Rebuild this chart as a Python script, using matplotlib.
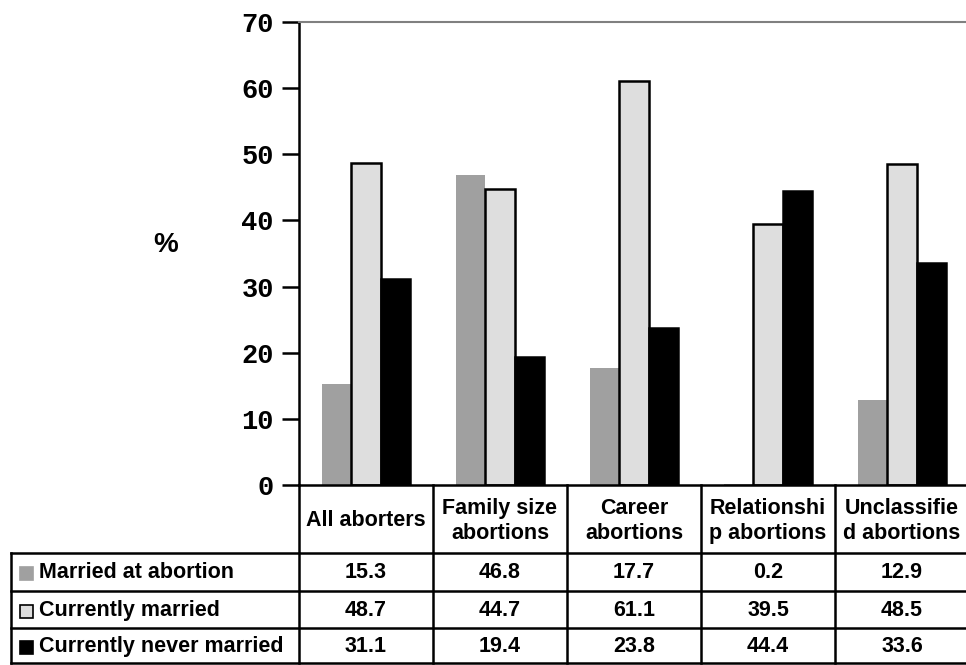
import matplotlib.pyplot as plt
from matplotlib.patches import Rectangle
from matplotlib.transforms import blended_transform_factory
import numpy as np

categories = ["All aborters", "Family size\nabortions", "Career\nabortions",
              "Relationshi\np abortions", "Unclassifie\nd abortions"]
series = ["Married at abortion", "Currently married", "Currently never married"]
married_at_abortion = [15.3, 46.8, 17.7, 0.2, 12.9]
currently_married = [48.7, 44.7, 61.1, 39.5, 48.5]
never_married = [31.1, 19.4, 23.8, 44.4, 33.6]
yticks = [0, 10, 20, 30, 40, 50, 60, 70]

values = [married_at_abortion, currently_married, never_married]
fills = ["#a0a0a0", "#dedede", "#000000"]
edges = ["#a0a0a0", "#000000", "#000000"]

W, H = 966, 665
fig = plt.figure(figsize=(W / 100, H / 100), dpi=100)


def fx(x):
    return x / W


def fy(y):
    return 1 - y / H


ax = fig.add_axes([fx(299), fy(485), fx(670), fy(22) - fy(485)])

x = np.arange(len(categories))
bw = 0.219
for k, (vals, fc, ec) in enumerate(zip(values, fills, edges)):
    ax.bar(x + (k - 1) * bw, vals, bw, color=fc, edgecolor=ec,
           linewidth=1.8 if k else 0)

ax.set_xlim(-0.5, len(categories) - 0.5)
ax.set_ylim(0, 70)
ax.set_yticks(yticks)
ax.set_xticks([])
ax.tick_params(axis="y", length=12, width=1.8, pad=6)
for lbl in ax.get_yticklabels():
    lbl.set_fontfamily("Liberation Mono")
    lbl.set_fontweight("bold")
    lbl.set_fontsize(19.5)
ax.spines["right"].set_visible(False)
ax.spines["bottom"].set_visible(False)
ax.spines["left"].set_linewidth(1.8)
ax.spines["top"].set_color("#808080")
ax.spines["top"].set_linewidth(1.5)

fig.text(fx(166), fy(245), "%", fontsize=20, fontweight="bold",
         family="Liberation Sans", ha="center", va="center")

# data table under the axes
tr = blended_transform_factory(ax.transData, fig.transFigure)
row_lines = [485, 553, 591, 628, 663]
lw = 1.8
col_edges = np.arange(len(categories) + 1) - 0.5
x_right = col_edges[-1]

ax.plot([col_edges[0], x_right], [fy(485)] * 2, color="black", lw=lw,
        transform=tr, clip_on=False)
for y in row_lines[1:]:
    fig.add_artist(plt.Line2D([fx(11), fx(969)], [fy(y)] * 2, color="black",
                              lw=lw))
fig.add_artist(plt.Line2D([fx(11)] * 2, [fy(553), fy(663)], color="black", lw=lw))
for ce in col_edges:
    ax.plot([ce, ce], [fy(485), fy(663)], color="black", lw=lw, transform=tr,
            clip_on=False)

fs = 15.5
text_kw = dict(family="Liberation Sans", fontweight="bold", fontsize=fs,
               ha="center", va="center")
for i, cat in enumerate(categories):
    ax.text(i, fy(521), cat, transform=tr, linespacing=1.3, **text_kw)

for r, (name, vals, fc) in enumerate(zip(series, values, fills)):
    yc = (row_lines[r + 1] + row_lines[r + 2]) / 2 + 1
    for i, v in enumerate(vals):
        ax.text(i, fy(yc), f"{v:.1f}", transform=tr, **text_kw)
    fig.add_artist(Rectangle((fx(20), fy(yc + 7)), fx(13), fy(0) - fy(13),
                             facecolor=fc, edgecolor="black" if r == 1 else fc,
                             lw=1.2, transform=fig.transFigure))
    fig.text(fx(39), fy(yc), name, family="Liberation Sans", fontweight="bold",
             fontsize=fs, ha="left", va="center")

fig.savefig("out.png", dpi=100)
